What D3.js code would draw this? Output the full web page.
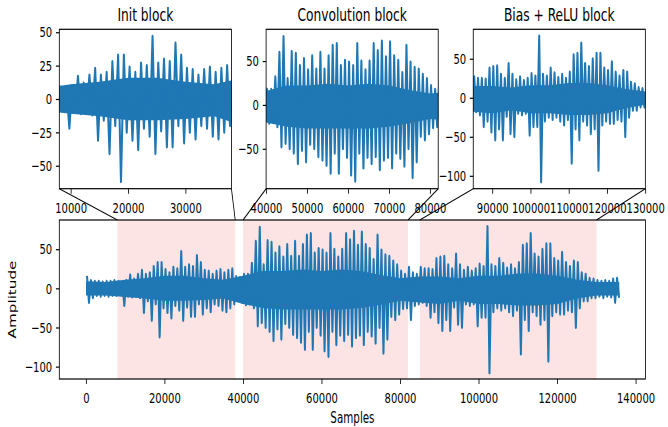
<!DOCTYPE html>
<html>
<head>
<meta charset="utf-8">
<script src="https://cdn.jsdelivr.net/npm/d3@7"></script>
<style>
  body { margin: 0; background: #fff; }
  svg { display: block; }
</style>
</head>
<body>
<script>
// envelope of the waveform, one max / min pair per 1000 samples
const BIN = 1000
const hiEnv = [
  16, 10, 9, 9, 8, 9, 9, 10,
  9, 8, 10, 17, 12, 18, 23, 18, 20, 28, 33, 33, 24, 20, 27, 25, 47, 27, 30, 28, 42, 33, 23, 22, 18, 22, 24, 20, 23, 25,
  15, 14,
  18, 18, 32, 60, 78, 30, 61, 59, 45, 53, 40, 56, 41, 60, 41, 56, 68, 70, 45, 51, 49, 45, 70, 50, 40, 50, 70, 62, 73, 55,
  72, 56, 51, 37, 68, 49, 43, 41, 35, 30, 22, 18,
  27, 20, 18,
  27, 25, 25, 24, 38, 40, 41, 30, 25, 44, 30, 23, 27, 22, 25, 31, 28, 79, 30, 28, 38, 32, 26, 30, 25, 33, 55, 57, 70, 44,
  40, 50, 57, 57, 38, 35, 46, 33, 28, 35, 33, 20, 18, 13, 12,
  10, 9, 10, 9, 12, 13
]
const loEnv = [
  -18, -12, -9, -10, -9, -10, -9, -9,
  -8, -22, -10, -11, -10, -12, -31, -16, -41, -20, -62, -25, -31, -38, -22, -28, -41, -24, -36, -36, -20, -33, -25, -30, -20, -22, -28, -30, -25, -20,
  -12, -18,
  -21, -20, -25, -48, -44, -50, -55, -67, -52, -65, -45, -50, -59, -63, -69, -78, -55, -78, -50, -60, -80, -87, -55, -72, -60, -67, -59, -74, -63, -60,
  -72, -55, -61, -70, -50, -83, -65, -36, -40, -33, -26, -25,
  -40, -22, -20,
  -18, -22, -37, -30, -44, -54, -40, -54, -24, -46, -50, -20, -22, -20, -48, -37, -37, -108, -30, -25, -28, -25, -30, -35, -28, -84, -40, -54, -30, -35,
  -46, -40, -93, -35, -30, -33, -33, -28, -30, -50, -25, -16, -16, -12, -12,
  -10, -12, -10, -11, -18, -12
]
// the solid dense band around zero, per 5000 samples
const CORE_BIN = 5000
const coreHi = [9, 8, 11, 13, 16, 16, 13, 11, 16, 22, 22, 24, 22, 24, 22, 17, 13, 15, 15, 13, 16, 16, 19, 19, 16, 11, 8, 8]
const coreLo = [-9, -9, -11, -13, -16, -16, -15, -13, -20, -25, -27, -27, -27, -27, -25, -21, -16, -18, -20, -16, -20, -20, -22, -22, -20, -13, -9, -9]
const SIGNAL_END = 135800

const regions = [[8000, 38000], [40000, 82000], [85000, 130000]]
const titles = ['Init block', 'Convolution block', 'Bias + ReLU block']
const subXTicks = [
  [10000, 20000, 30000],
  [40000, 50000, 60000, 70000, 80000],
  [90000, 100000, 110000, 120000, 130000]
]
const subYTicks = [[-50, -25, 0, 25, 50], [-50, 0, 50], [-100, -50, 0, 50]]
const subYDomains = [[-67.2, 52.2], [-95.5, 86.2], [-116.5, 87.7]]
const mainXTicks = [0, 20000, 40000, 60000, 80000, 100000, 120000, 140000]
const mainYTicks = [-100, -50, 0, 50]
const mainXDomain = [-6800, 142500]
const mainYDomain = [-115.8, 87.3]

// the picture is a horizontally squeezed matplotlib figure, so draw wide and squeeze
const VW = 982
const H = 427
const BLUE = '#1f77b4'
const FONT = 'DejaVu Sans'

const svg = d3.select('body')
    .append('svg')
    .attr('width', 668)
    .attr('height', H)
    .attr('viewBox', `0 0 ${VW} ${H}`)
    .attr('preserveAspectRatio', 'none')

// maxima early in each bin, minima late in it
const points = hiEnv.flatMap((h, i) => [[i * BIN + 250, h], [i * BIN + 750, loEnv[i]]])
const core = coreHi.map((h, i) => ({s: i * CORE_BIN, hi: h, lo: coreLo[i]}))
core.push({s: SIGNAL_END, hi: coreHi[coreHi.length - 1], lo: coreLo[coreLo.length - 1]})

const fmt = d => d < 0 ? '\u2212' + Math.abs(d) : String(d)

let clipId = 0

function drawPanel (box, xDomain, yDomain, xTicks, yTicks, spans) {
    const x = d3.scaleLinear(xDomain, [box.left, box.right])
    const y = d3.scaleLinear(yDomain, [box.bottom, box.top])
    const g = svg.append('g')
    const id = 'clip' + (clipId++)

    g.append('clipPath')
        .attr('id', id)
        .append('rect')
        .attr('x', box.left)
        .attr('y', box.top)
        .attr('width', box.right - box.left)
        .attr('height', box.bottom - box.top)

    g.selectAll('rect.span')
        .data(spans)
        .enter()
        .append('rect')
        .attr('class', 'span')
        .attr('x', d => x(d[0]))
        .attr('y', box.top)
        .attr('width', d => x(d[1]) - x(d[0]))
        .attr('height', box.bottom - box.top)
        .attr('fill', '#fde4e4')

    const wave = g.append('g').attr('clip-path', `url(#${id})`)

    const area = d3.area()
        .x(d => x(d.s))
        .y0(d => y(d.lo))
        .y1(d => y(d.hi))

    wave.append('path')
        .datum(core)
        .attr('d', area)
        .attr('fill', BLUE)

    const visible = points.filter(p => p[0] >= xDomain[0] - 2 * BIN && p[0] <= xDomain[1] + 2 * BIN)

    const line = d3.line()
        .x(d => x(d[0]))
        .y(d => y(d[1]))

    wave.append('path')
        .datum(visible)
        .attr('d', line)
        .attr('fill', 'none')
        .attr('stroke', BLUE)
        .attr('stroke-width', 3)
        .attr('stroke-linejoin', 'round')

    const xAxis = g.append('g')
        .attr('transform', `translate(0,${box.bottom})`)
        .call(d3.axisBottom(x).tickValues(xTicks).tickFormat(fmt).tickSize(5).tickPadding(8.7).tickSizeOuter(0))
    const yAxis = g.append('g')
        .attr('transform', `translate(${box.left},0)`)
        .call(d3.axisLeft(y).tickValues(yTicks).tickFormat(fmt).tickSize(5).tickPadding(5.5).tickSizeOuter(0))

    for (const a of [xAxis, yAxis]) {
        a.select('.domain').remove()
        a.selectAll('line').attr('stroke', '#000').attr('stroke-width', 1.2)
        a.selectAll('text')
            .attr('fill', '#000')
            .style('font-family', FONT)
            .style('font-size', '14.7px')
    }

    g.append('rect')
        .attr('x', box.left)
        .attr('y', box.top)
        .attr('width', box.right - box.left)
        .attr('height', box.bottom - box.top)
        .attr('fill', 'none')
        .attr('stroke', '#000')
        .attr('stroke-width', 1.2)

    return {x, y}
}

const mainBox = {left: 87.2, right: 949, top: 220, bottom: 379}
const main = drawPanel(mainBox, mainXDomain, mainYDomain, mainXTicks, mainYTicks, regions)

const subLefts = [87.2, 391.2, 695.7]
const subWidth = 253

regions.forEach((r, i) => {
    const box = {left: subLefts[i], right: subLefts[i] + subWidth, top: 29.3, bottom: 188.7}
    drawPanel(box, r, subYDomains[i], subXTicks[i], subYTicks[i], [])

    svg.append('text')
        .attr('x', (box.left + box.right) / 2)
        .attr('y', 20.6)
        .attr('text-anchor', 'middle')
        .style('font-family', FONT)
        .style('font-size', '18px')
        .text(titles[i])

    // connector lines from the zoomed panel down to its span
    svg.append('line')
        .attr('x1', box.left).attr('y1', box.bottom)
        .attr('x2', main.x(r[0])).attr('y2', mainBox.top)
        .attr('stroke', '#000').attr('stroke-width', 1.2)
    svg.append('line')
        .attr('x1', box.right).attr('y1', box.bottom)
        .attr('x2', main.x(r[1])).attr('y2', mainBox.top)
        .attr('stroke', '#000').attr('stroke-width', 1.2)
})

svg.append('text')
    .attr('transform', `translate(23.5,${(mainBox.top + mainBox.bottom) / 2}) rotate(-90)`)
    .attr('text-anchor', 'middle')
    .style('font-family', FONT)
    .style('font-size', '15.2px')
    .text('Amplitude')

svg.append('text')
    .attr('x', (mainBox.left + mainBox.right) / 2)
    .attr('y', 423)
    .attr('text-anchor', 'middle')
    .style('font-family', FONT)
    .style('font-size', '15.2px')
    .text('Samples')
</script>
</body>
</html>
